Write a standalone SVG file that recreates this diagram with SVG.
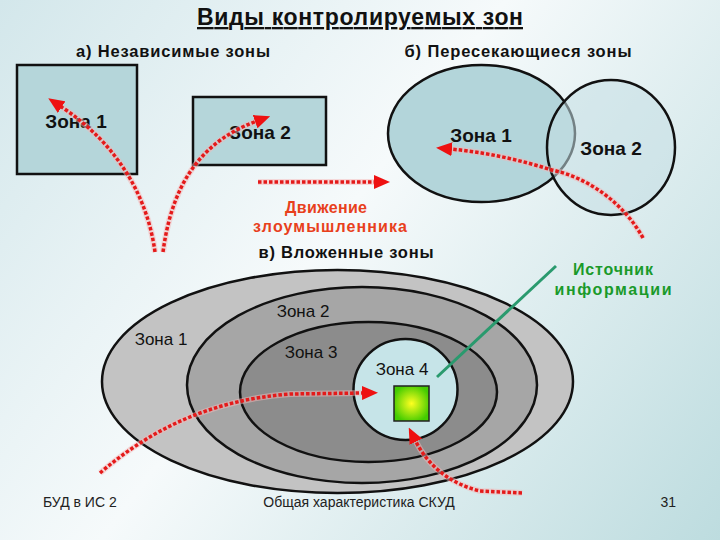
<svg xmlns="http://www.w3.org/2000/svg" width="720" height="540" viewBox="0 0 720 540">
<defs>
<linearGradient id="bg" x1="0" y1="0" x2="720" y2="540" gradientUnits="userSpaceOnUse">
<stop offset="0" stop-color="#d3e7eb"/>
<stop offset="0.45" stop-color="#f6fafb"/>
<stop offset="1" stop-color="#bddcdf"/>
</linearGradient>
<radialGradient id="sq" cx="0.5" cy="0.5" r="0.55">
<stop offset="0" stop-color="#ffff20"/>
<stop offset="1" stop-color="#44cc00"/>
</radialGradient>
<marker id="ah" viewBox="0 0 16 14" refX="2" refY="7" markerWidth="16" markerHeight="14" markerUnits="userSpaceOnUse" orient="auto">
<path d="M0,0 L16,7 L0,14 z" fill="#ee1111"/>
</marker>
<style>
.t{font-family:"Liberation Sans",Arial,sans-serif;fill:#111}
.b{font-weight:bold}
.z{stroke:#111;stroke-width:2.5}
.halo{fill:none;stroke:#f6b8b8;stroke-width:6;stroke-opacity:0.5}
.dot{fill:none;stroke:#e41a1a;stroke-width:3.5;stroke-dasharray:3.5 2}
.ft{font-family:"Liberation Sans",Arial,sans-serif;fill:#222;font-size:14px}
</style>
</defs>
<rect width="720" height="540" fill="url(#bg)"/>

<g id="title">
<text class="t b" x="360" y="25" font-size="23" text-anchor="middle" text-decoration="underline" textLength="326" lengthAdjust="spacing">Виды контролируемых зон</text>
</g>
<g id="label-a"><text class="t b" x="173" y="57" font-size="16.5" text-anchor="middle" textLength="194" lengthAdjust="spacing">а) Независимые зоны</text></g>
<g id="label-b"><text class="t b" x="518" y="57" font-size="16.5" text-anchor="middle" textLength="227" lengthAdjust="spacing">б) Пересекающиеся зоны</text></g>
<g id="label-c"><text class="t b" x="346" y="258" font-size="16.5" text-anchor="middle" textLength="175" lengthAdjust="spacing">в) Вложенные зоны</text></g>

<g id="a-zone1">
<rect x="17" y="65" width="120" height="109" fill="#b5d6da" class="z"/>
<text class="t b" x="76" y="128" font-size="19" text-anchor="middle">Зона 1</text>
</g>
<g id="a-zone2">
<rect x="193" y="97" width="133" height="68" fill="#b5d6da" class="z"/>
<text class="t b" x="260" y="139" font-size="19" text-anchor="middle">Зона 2</text>
</g>

<g id="b-zone1">
<ellipse cx="481.5" cy="133.5" rx="93.5" ry="68.5" fill="#b3d5da" class="z"/>
<text class="t b" x="481" y="142" font-size="19" text-anchor="middle">Зона 1</text>
</g>
<g id="b-zone2">
<ellipse cx="611" cy="147.5" rx="64" ry="67.5" fill="#c4dfe3" fill-opacity="0.55" class="z"/>
<text class="t b" x="611" y="155" font-size="19" text-anchor="middle">Зона 2</text>
</g>

<g id="c-zone1">
<ellipse cx="337.5" cy="381.5" rx="235.5" ry="111.5" fill="#c3c3c3" class="z"/>
<text class="t" x="161" y="345" font-size="17" text-anchor="middle">Зона 1</text>
</g>
<g id="c-zone2">
<ellipse cx="362" cy="385" rx="175" ry="98" fill="#a6a6a6" class="z"/>
<text class="t" x="303" y="317" font-size="17" text-anchor="middle">Зона 2</text>
</g>
<g id="c-zone3">
<ellipse cx="368.5" cy="392" rx="128.5" ry="70" fill="#8c8c8c" class="z"/>
<text class="t" x="311" y="358" font-size="17" text-anchor="middle">Зона 3</text>
</g>
<g id="c-zone4">
<ellipse cx="405.5" cy="389.5" rx="52" ry="50.5" fill="#c6e4e8" class="z"/>
<text class="t" x="402" y="375" font-size="17" text-anchor="middle">Зона 4</text>
</g>
<g id="source">
<rect x="394" y="386" width="35" height="35" fill="url(#sq)" stroke="#222" stroke-width="1.5"/>
</g>

<g id="legend-move">
<text class="t b" x="326" y="213" font-size="16" text-anchor="middle" style="fill:#e8401c" textLength="82" lengthAdjust="spacing">Движение</text>
<text class="t b" x="330" y="232" font-size="16" text-anchor="middle" style="fill:#e8401c" textLength="154" lengthAdjust="spacing">злоумышленника</text>
</g>
<g id="legend-source">
<text class="t b" x="613" y="275" font-size="16" text-anchor="middle" style="fill:#1a9a2a" textLength="80" lengthAdjust="spacing">Источник</text>
<text class="t b" x="613" y="295" font-size="16" text-anchor="middle" style="fill:#1a9a2a" textLength="117" lengthAdjust="spacing">информации</text>
</g>

<g id="connectors">
<line x1="556" y1="266" x2="437" y2="377" stroke="#2a9a6e" stroke-width="3"/>
<path class="halo" d="M155,252 C148,200 120,145 60,106"/>
<path class="dot" d="M155,252 C148,200 120,145 60,106" marker-end="url(#ah)"/>
<path class="halo" d="M163,252 C170,200 190,145 257,121"/>
<path class="dot" d="M163,252 C170,200 190,145 257,121" marker-end="url(#ah)"/>
<path class="halo" d="M258,182 L376,182"/>
<path class="dot" d="M258,182 L376,182" marker-end="url(#ah)"/>
<path class="halo" d="M643,238 C625,205 590,178 552,170 C520,160 485,152 450,149"/>
<path class="dot" d="M643,238 C625,205 590,178 552,170 C520,160 485,152 450,149" marker-end="url(#ah)"/>
<path class="halo" d="M100,473 C150,430 210,400 290,394 L364,393"/>
<path class="dot" d="M100,473 C150,430 210,400 290,394 L364,393" marker-end="url(#ah)"/>
<path class="halo" d="M522,493 L480,491 C455,485 430,470 415,440"/>
<path class="dot" d="M522,493 L480,491 C455,485 430,470 415,440" marker-end="url(#ah)"/>
</g>

<g id="footer">
<text class="ft" x="43" y="507">БУД в ИС 2</text>
<text class="ft" x="359" y="507" text-anchor="middle">Общая характеристика СКУД</text>
<text class="ft" x="676" y="507" text-anchor="end">31</text>
</g>
</svg>
